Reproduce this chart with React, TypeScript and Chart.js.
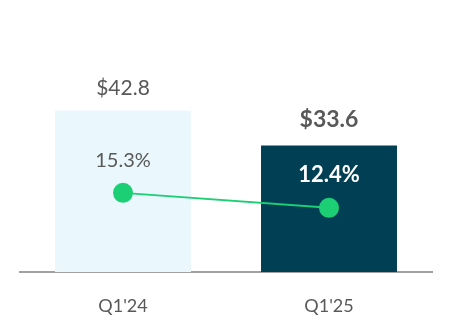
import React, { useEffect, useRef } from "react";
import { Chart, registerables } from "chart.js";

Chart.register(...registerables);

const categories = ["Q1'24", "Q1'25"];
const revenue = [42.8, 33.6];
const revenueLabels = ["$42.8", "$33.6"];
const margin = [15.3, 12.4];
const marginLabels = ["15.3%", "12.4%"];
const barColors = ["#EAF8FE", "#013F54"];
const topLabelBold = [false, true];
const innerLabelColors = ["#595959", "#FFFFFF"];
const innerLabelBold = [false, true];

const FONT = "Lato, 'Open Sans', sans-serif";

const labelPlugin = {
  id: "valueLabels",
  afterDatasetsDraw(chart: any) {
    const ctx = chart.ctx;
    const barMeta = chart.getDatasetMeta(0);
    const lineMeta = chart.getDatasetMeta(1);
    ctx.save();
    ctx.textAlign = "center";
    ctx.textBaseline = "alphabetic";
    barMeta.data.forEach((bar: any, i: number) => {
      const bold = topLabelBold[i];
      ctx.font = (bold ? "bold 23px " : "21px ") + FONT;
      ctx.fillStyle = "#595959";
      ctx.fillText(revenueLabels[i], bar.x, bar.y - (bold ? 18 : 16));
    });
    lineMeta.data.forEach((pt: any, i: number) => {
      const bold = innerLabelBold[i];
      ctx.font = (bold ? "bold 22px " : "20px ") + FONT;
      ctx.fillStyle = innerLabelColors[i];
      ctx.fillText(marginLabels[i], pt.x, pt.y - 26);
    });
    ctx.restore();
  },
};

export default function App() {
  const ref = useRef<HTMLCanvasElement | null>(null);
  useEffect(() => {
    if (!ref.current) return;
    const chart = new Chart(ref.current, {
      type: "bar",
      data: {
        labels: categories,
        datasets: [
          {
            type: "bar",
            data: revenue,
            backgroundColor: barColors,
            barPercentage: 0.66,
            categoryPercentage: 1,
            yAxisID: "y",
            order: 2,
          },
          {
            type: "line",
            data: margin,
            borderColor: "#1DCF74",
            backgroundColor: "#1DCF74",
            borderWidth: 2,
            pointRadius: 10,
            pointBorderWidth: 0,
            pointBackgroundColor: "#1DCF74",
            yAxisID: "y1",
            order: 1,
          },
        ] as any,
      },
      options: {
        animation: false,
        responsive: false,
        maintainAspectRatio: false,
        layout: { padding: { left: 20, right: 20, top: 46, bottom: 0 } },
        plugins: { legend: { display: false }, tooltip: { enabled: false } },
        scales: {
          x: {
            grid: { display: false },
            border: { display: true, color: "#A0A0A0", width: 2 },
            ticks: {
              color: "#595959",
              font: { family: FONT, size: 18 },
              padding: 15,
            },
            afterFit: (s: any) => {
              s.height = 60;
            },
          },
          y: { display: false, min: 0, max: 60 },
          y1: { display: false, min: 0, max: 43.7, position: "right" },
        },
      },
      plugins: [labelPlugin],
    });
    return () => chart.destroy();
  }, []);
  return (
    <div style={{ position: "fixed", left: 0, top: 0, width: 452, height: 332, background: "#fff" }}>
      <canvas ref={ref} width={452} height={332} style={{ width: 452, height: 332 }} />
    </div>
  );
}
